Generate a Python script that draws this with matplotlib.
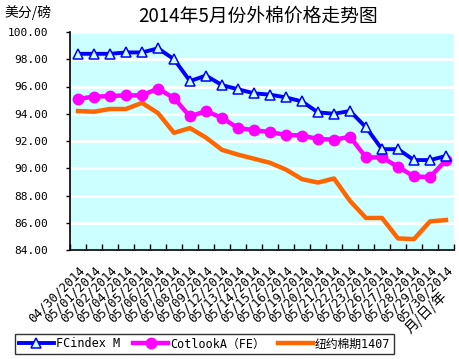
import matplotlib
matplotlib.use("Agg")
from matplotlib import pyplot as plt
import numpy as np

dates = ["04/30/2014", "05/01/2014", "05/02/2014", "05/04/2014", "05/05/2014",
         "05/06/2014", "05/07/2014", "05/08/2014", "05/09/2014", "05/12/2014",
         "05/13/2014", "05/14/2014", "05/15/2014", "05/16/2014", "05/19/2014",
         "05/20/2014", "05/21/2014", "05/22/2014", "05/23/2014", "05/26/2014",
         "05/27/2014", "05/28/2014", "05/29/2014", "05/30/2014"]
fcindex = [98.4, 98.4, 98.4, 98.5, 98.5, 98.8, 98.0, 96.4, 96.8, 96.1, 95.8, 95.5,
           95.4, 95.2, 94.9, 94.1, 94.0, 94.2, 93.0, 91.4, 91.4, 90.6, 90.6, 90.9]
cotlook = [95.1, 95.25, 95.3, 95.35, 95.35, 95.85, 95.15, 93.8, 94.2, 93.7, 92.95, 92.8,
           92.65, 92.45, 92.4, 92.15, 92.1, 92.3, 90.8, 90.8, 90.1, 89.4, 89.35, 90.6]
nyfut = [94.2, 94.15, 94.35, 94.35, 94.8, 94.05, 92.6, 92.95, 92.25, 91.35, 91.0, 90.7,
         90.4, 89.9, 89.2, 88.95, 89.25, 87.6, 86.35, 86.35, 84.85, 84.8, 86.1, 86.2]
yticks = [84, 86, 88, 90, 92, 94, 96, 98, 100]

MONO = ["DejaVu Sans Mono", "Noto Sans CJK SC"]
CJK = ["Noto Sans CJK SC", "DejaVu Sans"]

fig = plt.figure(figsize=(4.6, 3.59), dpi=100)
ax = fig.add_axes([70 / 460, 1 - 250 / 359, 384 / 460, 218 / 359])
ax.set_facecolor("#CCFFFF")

x = np.arange(len(dates))
ax.plot(x, fcindex, color="#0000FF", lw=2.8, marker="^", ms=7, mfc="#CCFFFF",
        mec="#0000FF", mew=1.1, label="FCindex M", zorder=4)
ax.plot(x, cotlook, color="#FF00FF", lw=3.2, marker="o", ms=7.5, mfc="#FF00FF",
        mec="#FF00FF", label="CotlookA（FE）", zorder=3)
ax.plot(x, nyfut, color="#FF6600", lw=3.2, label="纽约棉期1407", zorder=2)

ax.set_xlim(-0.5, len(dates) - 0.5)
ax.set_ylim(84, 100)
ax.set_yticks(yticks)
ax.set_yticklabels([f"{v:.2f}" for v in yticks], family=MONO, fontsize=8)
ax.grid(axis="y", color="white", lw=2)
ax.set_axisbelow(True)

ax.set_xticks(x)
ax.set_xticklabels(dates, rotation=45, ha="right", va="top", rotation_mode="anchor",
                   family=MONO, fontsize=8.8)
ax.set_xticks(np.arange(-0.5, len(dates)), minor=True)
ax.tick_params(axis="x", which="major", length=0, pad=10)
ax.tick_params(axis="x", which="minor", direction="in", length=4, width=1)
ax.tick_params(axis="y", direction="out", length=3, width=1, pad=13)

for s in ["top", "right"]:
    ax.spines[s].set_visible(False)
for s in ["left", "bottom"]:
    ax.spines[s].set_linewidth(1.2)

fig.text(258 / 460, 1 - 16 / 359, "2014年5月份外棉价格走势图", ha="center", va="center",
         family=CJK, fontsize=13.5)
fig.text(4 / 460, 1 - 13 / 359, "美分/磅", ha="left", va="center", family=CJK, fontsize=10)
fig.text(426 / 460, 1 - 312 / 359, "月/日/年", ha="center", va="center", rotation=45,
         family=CJK, fontsize=10)

leg = fig.legend(loc="lower left", bbox_to_anchor=(15 / 460, 1 - 354 / 359), ncol=3,
                 prop={"family": MONO, "size": 8.5}, frameon=True, fancybox=False,
                 edgecolor="black", handlelength=3.0, handletextpad=0.15,
                 columnspacing=1.1, borderpad=0.3, borderaxespad=0)
leg.get_frame().set_linewidth(1)

fig.savefig("out.png", dpi=100)
